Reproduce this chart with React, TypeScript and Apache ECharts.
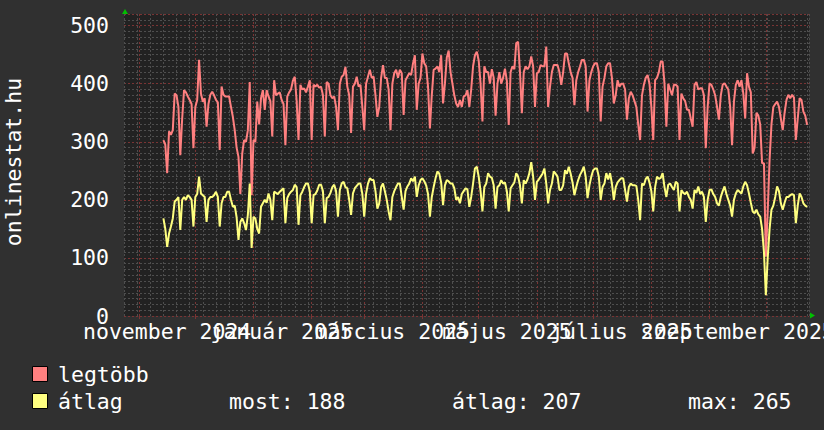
import React, { useEffect, useRef } from 'react';
import * as echarts from 'echarts';

const DAY = 86400000;
const axisStart = '2024-10-24';
const axisEnd = '2025-10-24';
const dataStart = '2024-11-14';

const monthStarts = [
  '2024-11-01', '2024-12-01', '2025-01-01', '2025-02-01', '2025-03-01', '2025-04-01',
  '2025-05-01', '2025-06-01', '2025-07-01', '2025-08-01', '2025-09-01', '2025-10-01',
];
const labelDates = ['2024-11-16', '2025-01-16', '2025-03-16', '2025-05-16', '2025-07-16', '2025-09-16'];
const labelTexts = ['november 2024', 'január 2025', 'március 2025', 'május 2025', 'július 2025', 'szeptember 2025'];

const seriesNames = ['legtöbb', 'átlag'];
const statTexts = ['most: 188', 'átlag: 207', 'max: 265'];

// daily values from 2024-11-14 (one row = one week, Thu..Wed)
const legtobb = [
  303, 295, 246, 318, 312, 320, 383,
  380, 360, 277, 340, 389, 385, 378,
  372, 365, 289, 360, 372, 441, 383,
  369, 375, 326, 365, 381, 386, 380,
  372, 368, 286, 395, 381, 378, 378,
  378, 360, 343, 320, 290, 274, 210,
  280, 303, 300, 320, 403, 208, 303,
  300, 369, 330, 375, 389, 355, 389,
  378, 370, 309, 406, 380, 383, 385,
  372, 365, 294, 378, 385, 390, 405,
  412, 370, 303, 398, 390, 392, 385,
  395, 406, 303, 398, 395, 398, 393,
  395, 380, 309, 403, 400, 380, 375,
  378, 360, 320, 400, 412, 415, 429,
  395, 380, 315, 395, 400, 412, 395,
  398, 360, 320, 400, 412, 424, 410,
  412, 380, 343, 360, 410, 432, 410,
  410, 390, 320, 400, 418, 424, 410,
  424, 418, 346, 406, 412, 418, 415,
  435, 449, 355, 400, 410, 452, 435,
  430, 395, 323, 380, 424, 426, 430,
  420, 449, 366, 400, 445, 457, 420,
  400, 380, 366, 360, 372, 360, 378,
  380, 389, 360, 390, 430, 449, 455,
  440, 400, 335, 430, 420, 420, 400,
  425, 410, 345, 400, 420, 400, 410,
  426, 405, 329, 420, 430, 425, 470,
  472, 420, 349, 420, 430, 425, 430,
  447, 430, 360, 418, 420, 432, 430,
  430, 464, 360, 395, 420, 432, 432,
  432, 420, 398, 420, 452, 452, 435,
  420, 410, 363, 406, 420, 430, 441,
  441, 430, 352, 406, 420, 430, 435,
  435, 420, 335, 395, 410, 430, 435,
  435, 410, 366, 380, 406, 395, 400,
  400, 390, 338, 375, 386, 380, 370,
  360, 330, 303, 380, 398, 410, 415,
  400, 360, 303, 406, 410, 420, 438,
  438, 400, 326, 400, 390, 380, 398,
  398, 395, 303, 383, 375, 370, 355,
  355, 340, 326, 398, 403, 390, 392,
  392, 380, 289, 360, 400, 398, 390,
  380, 360, 338, 380, 398, 401, 395,
  390, 360, 294, 369, 398, 406, 395,
  406, 383, 340, 418, 395, 385, 280,
  290, 350, 345, 330, 263, 263, 102,
  180, 269, 330, 360, 365, 369, 360,
  340, 320, 350, 372, 381, 375, 381,
  376, 303, 340, 375, 372, 352, 345,
  329,
];

const atlag = [
  168, 150, 119, 142, 154, 168, 197,
  200, 205, 148, 200, 205, 200, 208,
  205, 200, 154, 205, 210, 240, 211,
  208, 205, 162, 200, 205, 205, 208,
  214, 205, 154, 194, 205, 205, 214,
  214, 200, 188, 190, 170, 131, 162,
  168, 160, 148, 174, 228, 117, 171,
  168, 150, 142, 188, 194, 200, 195,
  211, 200, 165, 214, 212, 210, 214,
  217, 220, 160, 203, 210, 214, 217,
  226, 222, 157, 208, 214, 222, 228,
  228, 215, 160, 208, 210, 216, 226,
  226, 215, 160, 203, 205, 212, 222,
  226, 215, 171, 217, 228, 231, 222,
  220, 200, 174, 211, 220, 224, 228,
  228, 210, 171, 211, 228, 237, 234,
  234, 215, 185, 194, 222, 228, 215,
  200, 180, 165, 205, 215, 222, 228,
  228, 205, 183, 215, 223, 228, 237,
  232, 240, 205, 225, 234, 237, 232,
  225, 210, 171, 205, 222, 237, 249,
  245, 230, 191, 225, 234, 232, 228,
  228, 220, 200, 205, 194, 210, 215,
  220, 218, 188, 205, 228, 254, 257,
  240, 215, 180, 222, 228, 246, 240,
  238, 225, 185, 222, 225, 234, 228,
  230, 215, 180, 220, 225, 230, 246,
  240, 225, 194, 234, 228, 235, 246,
  265, 240, 200, 231, 235, 240, 245,
  254, 228, 194, 217, 228, 249, 245,
  240, 217, 217, 225, 251, 245, 257,
  245, 230, 208, 222, 234, 243, 249,
  257, 240, 203, 225, 240, 251, 254,
  254, 240, 200, 222, 228, 246, 235,
  246, 228, 200, 222, 230, 234, 237,
  237, 217, 197, 222, 228, 225, 225,
  224, 200, 165, 228, 225, 236, 240,
  230, 215, 180, 222, 240, 236, 238,
  246, 222, 205, 226, 228, 222, 217,
  231, 228, 180, 217, 212, 210, 214,
  205, 200, 185, 217, 212, 223, 210,
  214, 205, 162, 200, 217, 218, 210,
  205, 194, 190, 205, 215, 223, 210,
  200, 190, 171, 200, 211, 217, 214,
  211, 223, 231, 225, 211, 195, 180,
  177, 183, 175, 171, 150, 110, 36,
  100, 150, 183, 190, 205, 223, 215,
  194, 183, 195, 205, 205, 208, 210,
  208, 160, 190, 211, 205, 194, 190,
  188,
];

const FONT = 'DejaVu Sans Mono';
const TEXT = '#ffffff';
const RED = '#ff8080';
const YEL = '#ffff80';
const MINOR = '#4e4e4e';
const MAJOR = '#7a3434';

export default function App() {
  const ref = useRef<HTMLDivElement>(null);
  useEffect(() => {
    if (!ref.current) return;
    const chart = echarts.init(ref.current, undefined, { renderer: 'svg' });
    const t0 = Date.parse(axisStart);
    const t1 = Date.parse(axisEnd);
    const d0 = Date.parse(dataStart);
    const toPts = (arr: number[]) => arr.map((v, i) => [d0 + i * DAY, v]);
    const labelMap: Record<number, string> = {};
    labelDates.forEach((d, i) => { labelMap[Date.parse(d)] = labelTexts[i]; });
    const labelAxis = (parity: number) => ({
      type: 'value', min: t0, max: t1, position: 'bottom',
      axisLine: { show: false }, axisTick: { show: false }, splitLine: { show: false },
      axisLabel: {
        show: true,
        customValues: labelDates.filter((_, i) => i % 2 === parity).map((d) => Date.parse(d)),
        showMinLabel: true, showMaxLabel: true, hideOverlap: false,
        formatter: (v: number) => labelMap[v] ?? '',
        color: TEXT, fontFamily: FONT, fontSize: 21.5, margin: 4,
      },
    });

    const option: any = {
      animation: false,
      backgroundColor: '#303030',
      grid: {
        left: 124, top: 14, width: 685, height: 302,
        show: true, backgroundColor: '#222222', borderWidth: 0,
        containLabel: false, outerBoundsMode: 'none',
      },
      xAxis: [
        {
          type: 'value', min: t0, max: t1, interval: 7 * DAY,
          axisLine: { show: false }, axisTick: { show: false }, axisLabel: { show: false },
          splitLine: { show: true, lineStyle: { color: MINOR, width: 1, type: [2, 2] } },
        },
        {
          type: 'value', min: t0, max: t1, position: 'bottom',
          axisLine: { show: false },
          axisTick: {
            show: true, length: 3, customValues: monthStarts.map((d) => Date.parse(d)),
            lineStyle: { color: MAJOR },
          },
          axisLabel: { show: false },
          splitLine: { show: true, lineStyle: { color: MAJOR, width: 1, type: [2, 2] } },
        },
        labelAxis(0),
        labelAxis(1),
      ],
      yAxis: [
        {
          type: 'value', min: 0, max: 520, interval: 10,
          axisLine: { show: false }, axisTick: { show: false }, axisLabel: { show: false },
          splitLine: { show: true, lineStyle: { color: MINOR, width: 1, type: [2, 2] } },
        },
        {
          type: 'value', min: 0, max: 520, interval: 100, position: 'left',
          axisLine: { show: false }, axisTick: { show: false },
          axisLabel: {
            show: true, showMinLabel: true, showMaxLabel: false, color: TEXT, fontFamily: FONT, fontSize: 21.5, margin: 15,
          },
          splitLine: { show: true, lineStyle: { color: MAJOR, width: 1, type: [2, 2] } },
        },
      ],
      series: [
        {
          name: seriesNames[0], type: 'line', xAxisIndex: 0, yAxisIndex: 0,
          data: toPts(legtobb), showSymbol: false, symbol: 'none',
          lineStyle: { color: RED, width: 2 }, itemStyle: { color: RED },
        },
        {
          name: seriesNames[1], type: 'line', xAxisIndex: 0, yAxisIndex: 0,
          data: toPts(atlag), showSymbol: false, symbol: 'none',
          lineStyle: { color: YEL, width: 2 }, itemStyle: { color: YEL },
        },
      ],
      graphic: [
        {
          type: 'text', x: 13, y: 162, rotation: Math.PI / 2,
          style: { text: 'onlinestat.hu', fill: TEXT, fontFamily: FONT, fontSize: 21.5, align: 'center', verticalAlign: 'middle' },
        },
        { type: 'polygon', shape: { points: [[122, 14], [128, 14], [125, 9]] }, style: { fill: '#00c000' } },
        { type: 'polygon', shape: { points: [[810, 312.5], [810, 318.5], [815, 315.5]] }, style: { fill: '#00c000' } },
        { type: 'rect', shape: { x: 32.5, y: 366.5, width: 15, height: 15 }, style: { fill: RED, stroke: '#000', lineWidth: 1 } },
        { type: 'rect', shape: { x: 32.5, y: 393.5, width: 15, height: 15 }, style: { fill: YEL, stroke: '#000', lineWidth: 1 } },
        { type: 'text', x: 58, y: 374, style: { text: seriesNames[0], fill: TEXT, fontFamily: FONT, fontSize: 21.5, verticalAlign: 'middle' } },
        { type: 'text', x: 58, y: 401, style: { text: seriesNames[1], fill: TEXT, fontFamily: FONT, fontSize: 21.5, verticalAlign: 'middle' } },
        { type: 'text', x: 229, y: 401, style: { text: statTexts[0], fill: TEXT, fontFamily: FONT, fontSize: 21.5, verticalAlign: 'middle' } },
        { type: 'text', x: 452, y: 401, style: { text: statTexts[1], fill: TEXT, fontFamily: FONT, fontSize: 21.5, verticalAlign: 'middle' } },
        { type: 'text', x: 688, y: 401, style: { text: statTexts[2], fill: TEXT, fontFamily: FONT, fontSize: 21.5, verticalAlign: 'middle' } },
      ],
    };
    chart.setOption(option);
    return () => chart.dispose();
  }, []);
  return <div ref={ref} style={{ position: 'fixed', left: 0, top: 0, width: 824, height: 430 }} />;
}
